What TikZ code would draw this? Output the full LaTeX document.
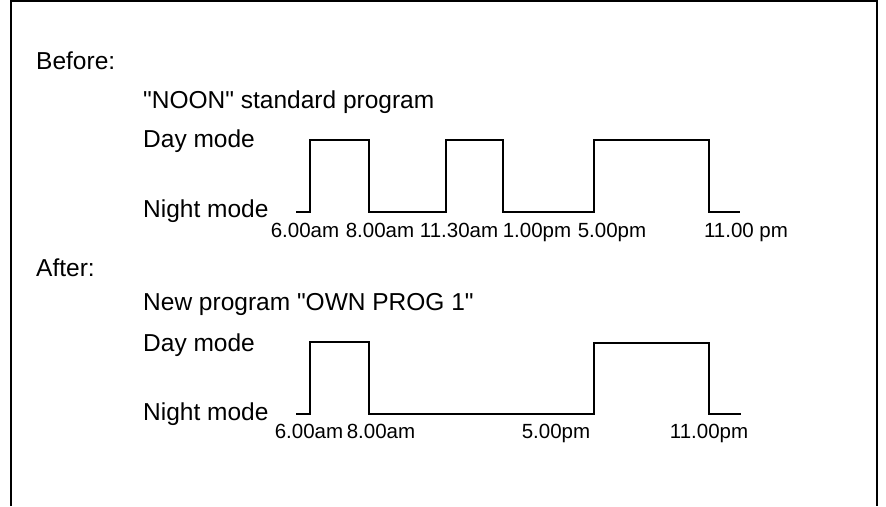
\documentclass[tikz,border=0pt]{standalone}
\usepackage{fontspec}
\setmainfont{Liberation Sans}

\begin{document}
\begin{tikzpicture}[
    x=1pt, y=-1pt,
    txt/.style={anchor=base west, inner sep=0pt, font=\fontsize{24.5}{29}\selectfont},
    timelbl/.style={anchor=base, inner sep=0pt, font=\fontsize{20.5}{24}\selectfont},
    wave/.style={draw, line width=2pt, line join=miter},
    frameline/.style={draw, line width=1.3pt},
]
\useasboundingbox (0,0) rectangle (886,506);

% ================================================================
%  FRAME (open at the bottom)
% ================================================================
\coordinate (fr_bl) at (11,506);
\coordinate (fr_tl) at (11,1);
\coordinate (fr_tr) at (877,1);
\coordinate (fr_br) at (877,506);
\draw[frameline] (fr_bl) -- (fr_tl) -- (fr_tr) -- (fr_br);

% ================================================================
%  BEFORE: "NOON" STANDARD PROGRAM
% ================================================================
\def\lo{212}
\def\hi{140}

\node[txt] (before)    at (36,69)   {Before:};
\node[txt] (noon)      at (143,108) {\textquotedbl NOON\textquotedbl{} standard program};
\node[txt] (day_bef)   at (143,147) {Day mode};
\node[txt] (night_bef) at (143,217) {Night mode};

\draw[wave] (296,\lo) -- (310,\lo) -- (310,\hi) -- (369,\hi) -- (369,\lo)
    -- (446,\lo) -- (446,\hi) -- (503,\hi) -- (503,\lo)
    -- (594,\lo) -- (594,\hi) -- (709,\hi) -- (709,\lo) -- (740,\lo);

% --- switching times ---
\node[timelbl] (tb_600)  at (305,237) {6.00am};
\node[timelbl] (tb_800)  at (380,237) {8.00am};
\node[timelbl] (tb_1130) at (459,237) {11.30am};
\node[timelbl] (tb_100)  at (537,237) {1.00pm};
\node[timelbl] (tb_500)  at (612,237) {5.00pm};
\node[timelbl] (tb_1100) at (746,237) {11.00 pm};

% ================================================================
%  AFTER: NEW PROGRAM "OWN PROG 1"
% ================================================================
\def\loa{414}
\def\hia{342}

\node[txt] (after)     at (36,276)  {After:};
\node[txt] (ownprog)   at (143,310) {New program \textquotedbl OWN PROG 1\textquotedbl};
\node[txt] (day_aft)   at (143,351) {Day mode};
\node[txt] (night_aft) at (143,420) {Night mode};

\draw[wave] (296,\loa) -- (310,\loa) -- (310,\hia) -- (369,\hia) -- (369,\loa)
    -- (594,\loa) -- (594,\hia+1) -- (709,\hia+1) -- (709,\loa) -- (741,\loa);

% --- switching times ---
\node[timelbl] (ta_600)  at (309,438) {6.00am};
\node[timelbl] (ta_800)  at (381,438) {8.00am};
\node[timelbl] (ta_500)  at (556,438) {5.00pm};
\node[timelbl] (ta_1100) at (709,438) {11.00pm};

\end{tikzpicture}
\end{document}
